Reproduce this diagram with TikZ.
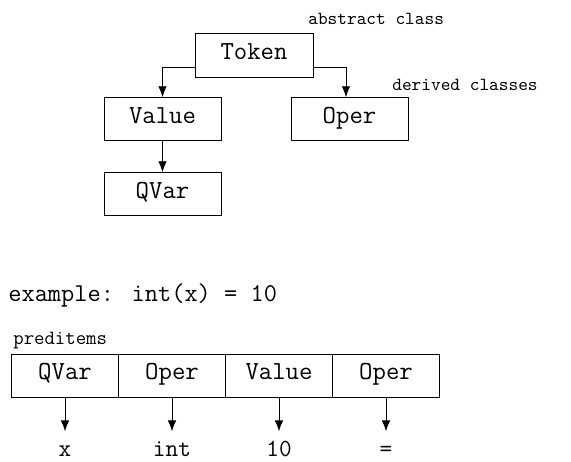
\documentclass[tikz,border=0pt]{standalone}
\usepackage{fontspec}
\usetikzlibrary{positioning,arrows.meta}

\tikzset{
  classbox/.style={draw, line width=0.5pt, minimum width=2.34cm, minimum height=0.85cm,
    inner sep=0pt, text height=1.6ex, text depth=0.45ex,
    font=\ttfamily\fontsize{14.8}{17}\selectfont},
  cellbox/.style={draw, line width=0.5pt, minimum width=2.14cm, minimum height=0.86cm,
    inner sep=0pt, outer sep=0pt, text height=1.6ex, text depth=0.45ex,
    font=\ttfamily\fontsize{14.8}{17}\selectfont},
  note/.style={anchor=west, inner sep=0pt, font=\ttfamily\fontsize{10.5}{12}\selectfont},
  vallabel/.style={inner sep=0pt, text height=1.6ex, text depth=0.45ex,
    font=\ttfamily\fontsize{14}{16}\selectfont},
  arr/.style={-{Latex[length=2.2mm,width=1.7mm]}, line width=0.5pt}
}

\begin{document}
\begin{tikzpicture}
\useasboundingbox (0,0) rectangle (11.42,-9.24);

% class hierarchy
\node[classbox, minimum width=2.36cm, minimum height=0.88cm] (token) at (5.08,-1.10) {Token};
\node[classbox] (value) at (3.25,-2.38) {Value};
\node[classbox] (oper) at (6.99,-2.38) {Oper};
\node[classbox] (qvar) at (3.25,-3.88) {QVar};

\node[note] (abstr) at (6.16,-0.38) {abstract class};
\node[note] (deriv) at (7.84,-1.70) {derived classes};

% arrows of the hierarchy
\draw[arr] ([yshift=-0.24cm]token.west) -| (value.north);
\draw[arr] ([yshift=-0.24cm]token.east) -| ([xshift=-0.07cm]oper.north);
\draw[arr] (value.south) -- (qvar.north);

% example row
\node[anchor=west, inner sep=0pt, font=\ttfamily\fontsize{14.6}{17}\selectfont] (example) at (0.16,-5.90) {example: int(x) = 10};
\node[note, font=\ttfamily\fontsize{11.5}{13}\selectfont] (preditems) at (0.26,-6.82) {preditems};

\node[cellbox] (c1) at (1.30,-7.51) {QVar};
\node[cellbox, right=0pt of c1] (c2) {Oper};
\node[cellbox, right=0pt of c2] (c3) {Value};
\node[cellbox, right=0pt of c3] (c4) {Oper};

\node[vallabel] (l1) at (c1 |- 0,-9.04) {x};
\node[vallabel] (l2) at (c2 |- 0,-9.04) {int};
\node[vallabel] (l3) at (c3 |- 0,-9.04) {10};
\node[vallabel] (l4) at (c4 |- 0,-9.04) {=};

\foreach \i in {1,...,4}
  \draw[arr, shorten >=0.25cm] (c\i.south) -- (l\i.north);

\end{tikzpicture}
\end{document}
